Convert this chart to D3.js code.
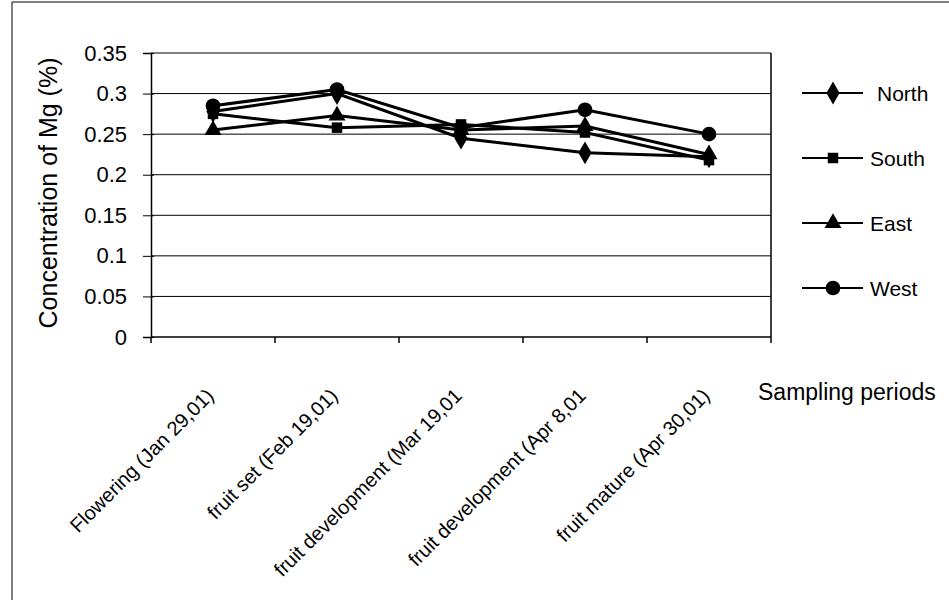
<!DOCTYPE html>
<html>
<head>
<meta charset="utf-8">
<script src="https://cdn.jsdelivr.net/npm/d3@7"></script>
<style>
  body { margin: 0; background: #fff; }
  svg text { font-family: "Liberation Sans", Arial, sans-serif; fill: #000; }
</style>
</head>
<body>
<svg id="chart" width="949" height="600"></svg>
<script>
"use strict";

// Sampling periods (x categories)
const periods = [
    "Flowering (Jan 29,01)",
    "fruit set (Feb 19,01)",
    "fruit development (Mar 19,01",
    "fruit development (Apr 8,01",
    "fruit mature (Apr 30,01)"
];

// Mg concentration (%) per site
const north = [0.278, 0.300, 0.245, 0.227, 0.222];
const south = [0.275, 0.258, 0.262, 0.252, 0.218];
const east  = [0.255, 0.273, 0.255, 0.260, 0.225];
const west  = [0.285, 0.305, 0.258, 0.280, 0.250];

const seriesNames = ["North", "South", "East", "West"];
const yTicks = [0, 0.05, 0.1, 0.15, 0.2, 0.25, 0.3, 0.35];

const series = [
    {name: seriesNames[0], values: north, symbol: d3.symbolDiamond, size: 150},
    {name: seriesNames[1], values: south, symbol: d3.symbolSquare, size: 110},
    {name: seriesNames[2], values: east, symbol: d3.symbolTriangle, size: 125},
    {name: seriesNames[3], values: west, symbol: d3.symbolCircle, size: 170}
];

const svg = d3.select("#chart");
const plot = {left: 151, right: 771, top: 53, bottom: 337};

// outer frame of the chart
svg.append("path")
    .attr("d", "M12,610 V2 H960")
    .attr("fill", "none")
    .attr("stroke", "#000")
    .attr("stroke-width", 1);

const x = d3.scaleBand()
    .domain(periods)
    .range([plot.left, plot.right]);

const y = d3.scaleLinear()
    .domain([0, 0.35])
    .range([plot.bottom, plot.top]);

// gridlines
svg.append("g")
    .selectAll("line")
    .data(yTicks.filter((d) => d > 0))
    .join("line")
    .attr("x1", plot.left)
    .attr("x2", plot.right)
    .attr("y1", (d) => y(d))
    .attr("y2", (d) => y(d))
    .attr("stroke", "#000")
    .attr("stroke-width", 1);

// right border of plot area
svg.append("line")
    .attr("x1", plot.right).attr("x2", plot.right)
    .attr("y1", plot.top).attr("y2", plot.bottom)
    .attr("stroke", "#000")
    .attr("stroke-width", 1.5);

// y axis
const yAxis = svg.append("g")
    .attr("transform", `translate(${plot.left},0)`)
    .call(d3.axisLeft(y).tickValues(yTicks).tickFormat(d3.format("")).tickSize(8).tickPadding(16));
yAxis.select(".domain").attr("stroke-width", 1.5);
yAxis.selectAll(".tick line").attr("x2", 3).attr("x1", -8);
yAxis.selectAll("text").attr("font-size", 22).style("font-family", "'Liberation Sans', Arial, sans-serif");

// x axis with ticks at category boundaries
const xAxisG = svg.append("g")
    .attr("transform", `translate(0,${plot.bottom})`);
xAxisG.append("line")
    .attr("x1", plot.left).attr("x2", plot.right)
    .attr("stroke", "#000").attr("stroke-width", 1.5);
xAxisG.selectAll("line.tick")
    .data(periods.map((p) => x(p)).concat([plot.right]))
    .join("line")
    .attr("class", "tick")
    .attr("x1", (d) => d).attr("x2", (d) => d)
    .attr("y1", 0).attr("y2", 6)
    .attr("stroke", "#000").attr("stroke-width", 1.5);

xAxisG.selectAll("text")
    .data(periods)
    .join("text")
    .attr("transform", (d) => `translate(${x(d) + x.bandwidth() / 2 + 2},60) rotate(-45)`)
    .attr("text-anchor", "end")
    .attr("font-size", 20)
    .text((d) => d);

// y title
svg.append("text")
    .attr("transform", `translate(57,${(plot.top + plot.bottom) / 2 - 2}) rotate(-90)`)
    .attr("text-anchor", "middle")
    .attr("font-size", 25)
    .text("Concentration of Mg (%)");

// x title
svg.append("text")
    .attr("x", 758)
    .attr("y", 400)
    .attr("font-size", 23)
    .text("Sampling periods");

const cx = (i) => x(periods[i]) + x.bandwidth() / 2;

const line = d3.line()
    .x((d, i) => cx(i))
    .y((d) => y(d));

const lines = svg.append("g");
series.forEach((s) => {
    lines.append("path")
        .datum(s.values)
        .attr("d", line)
        .attr("fill", "none")
        .attr("stroke", "#000")
        .attr("stroke-width", 3);
});

series.forEach((s) => {
    lines.append("g")
        .selectAll("path")
        .data(s.values)
        .join("path")
        .attr("transform", (d, i) => `translate(${cx(i)},${y(d)})`)
        .attr("d", d3.symbol().type(s.symbol).size(s.size))
        .attr("fill", "#000");
});

// legend
const legendY = d3.scalePoint()
    .domain(seriesNames)
    .range([93, 288]);

const legend = svg.append("g");
series.forEach((s) => {
    const ly = legendY(s.name);
    legend.append("line")
        .attr("x1", 802).attr("x2", 863)
        .attr("y1", ly).attr("y2", ly)
        .attr("stroke", "#000").attr("stroke-width", 2);
    legend.append("path")
        .attr("transform", `translate(833,${ly})`)
        .attr("d", d3.symbol().type(s.symbol).size(s.size))
        .attr("fill", "#000");
    legend.append("text")
        .attr("x", s.name === "North" ? 877 : 870)
        .attr("y", ly + 8)
        .attr("font-size", 21)
        .text(s.name);
});
</script>
</body>
</html>
